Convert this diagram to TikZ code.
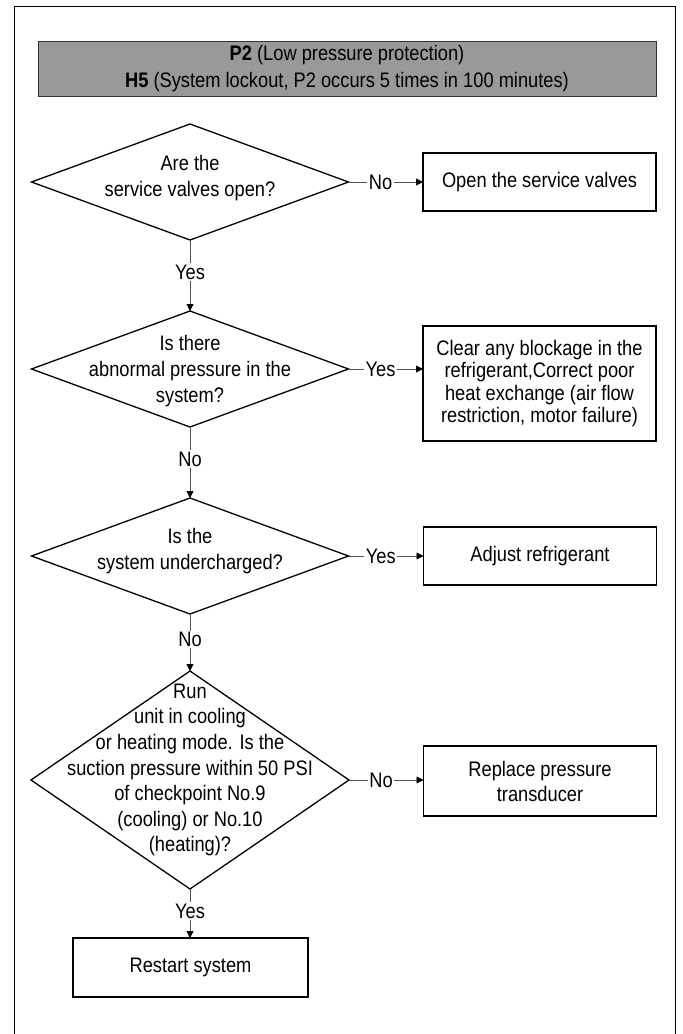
\documentclass[tikz,border=0pt]{standalone}
\usepackage{fontspec}
\setmainfont{Liberation Sans}[FakeStretch=0.87]
\usetikzlibrary{shapes.geometric,arrows.meta}
\definecolor{hdrgray}{HTML}{999999}
\definecolor{conngray}{HTML}{555555}
\tikzset{
  dia/.style={shape=diamond, draw=black, line width=1.3pt, inner sep=0pt, outer sep=0pt},
  dtext/.style={align=center, inner sep=0pt, font=\fontsize{21}{25.6}\selectfont},
  procbox/.style={draw=black, line width=1.3pt, rectangle, inner sep=2pt, outer sep=0pt,
    minimum width=233pt, align=center, font=\fontsize{21}{25}\selectfont},
  conn/.style={draw=conngray, line width=0.8pt, -{Triangle[length=7pt,width=7pt,color=black,fill=black]}},
  lab/.style={fill=white, inner sep=1.5pt, font=\fontsize{21}{25}\selectfont}
}
\begin{document}
\begin{tikzpicture}[x=1pt,y=-1pt]
\useasboundingbox (0,0) rectangle (683,1034);
% outer frame (open at the bottom)
\coordinate (fbl) at (14.5,1040);
\coordinate (ftl) at (14.5,6);
\coordinate (ftr) at (675.5,6);
\coordinate (fbr) at (675.5,1040);
\draw[line width=1pt] (fbl) -- (ftl) -- (ftr) -- (fbr);
% header
\node[draw=black!80, line width=1pt, fill=hdrgray, minimum width=618pt, minimum height=55pt,
  inner sep=0pt, align=center, font=\fontsize{21}{27}\selectfont] (hdr) at (347,68.5)
  {\textbf{P2} (Low pressure protection)\\\textbf{H5} (System lockout, P2 occurs 5 times in 100 minutes)};
% decisions
\node[dia, minimum width=317pt, minimum height=116pt] (d1) at (190,182) {};
\node[dtext] (d1t) at (190,178) {Are the\\service valves open?};
\node[dia, minimum width=317pt, minimum height=116pt] (d2) at (190,369) {};
\node[dtext] (d2t) at (190,371) {Is there\\abnormal pressure in the\\system?};
\node[dia, minimum width=317pt, minimum height=116pt] (d3) at (190,556) {};
\node[dtext] (d3t) at (190,551) {Is the\\system undercharged?};
\node[dia, minimum width=318pt, minimum height=218pt] (d4) at (190,780) {};
\node[dtext] (d4t) at (190,770) {Run\\unit in cooling\\or heating mode. Is the\\suction pressure within 50 PSI\\of checkpoint No.9\\(cooling) or No.10\\(heating)?};
% actions
\node[procbox, minimum height=58pt] (b1) at (539.5,182) {Open the service valves};
\node[procbox, minimum height=115pt, font=\fontsize{21}{22.5}\selectfont] (b2) at (539.5,383.5)
  {Clear any blockage in the\\refrigerant,Correct poor\\heat exchange (air flow\\restriction, motor failure)};
\node[procbox, minimum height=58pt] (b3) at (540,556) {Adjust refrigerant};
\node[procbox, minimum height=70pt] (b4) at (540,781) {Replace pressure\\transducer};
\node[procbox, minimum width=235pt, minimum height=59pt] (b5) at (190.5,967.5) {Restart system};
% connectors
\draw[conn] (d1.east) -- node[lab, pos=0.43] {No} (d1.east -| b1.west);
\draw[conn] (d2.east) -- node[lab, pos=0.43] {Yes} (d2.east -| b2.west);
\draw[conn] (d3.east) -- node[lab, pos=0.43] {Yes} (d3.east -| b3.west);
\draw[conn] (d4.east) -- node[lab, pos=0.43] {No} (d4.east -| b4.west);
\draw[conn] (d1.south) -- node[lab, pos=0.45] {Yes} (d2.north);
\draw[conn] (d2.south) -- node[lab, pos=0.45] {No} (d3.north);
\draw[conn] (d3.south) -- node[lab, pos=0.45] {No} (d4.north);
\draw[conn] (d4.south) -- node[lab, pos=0.45] {Yes} (d4.south |- b5.north);
\end{tikzpicture}
\end{document}
